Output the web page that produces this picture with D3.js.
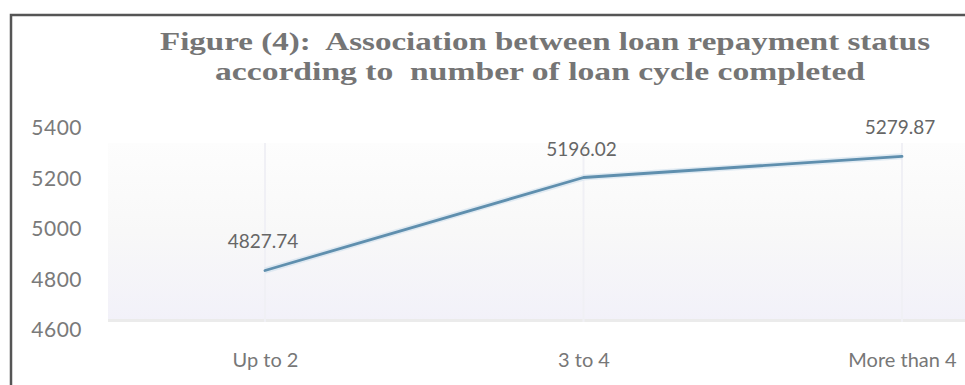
<!DOCTYPE html>
<html>
<head>
<meta charset="utf-8">
<script src="https://cdn.jsdelivr.net/npm/d3@7/dist/d3.min.js"></script>
<style>
  html, body { margin: 0; padding: 0; background: #ffffff; }
  svg { display: block; }
</style>
</head>
<body>
<svg id="chart" width="965" height="385"></svg>
<script>
// ---- data ----
const categories = ["Up to 2", "3 to 4", "More than 4"];
const values = [4827.74, 5196.02, 5279.87];
const valueLabels = ["4827.74", "5196.02", "5279.87"];
const yTicks = [4600, 4800, 5000, 5200, 5400];
const titleLines = [
  "Figure (4):  Association between loan repayment status",
  "according to  number of loan cycle completed"
];

const svg = d3.select("#chart");
const W = 965, H = 385;

// scales
const x = d3.scalePoint().domain(categories).range([265, 902]);
const y = d3.scaleLinear().domain([4600, 5400]).range([328, 126]);

// defs: background gradient
const defs = svg.append("defs");
const grad = defs.append("linearGradient").attr("id", "bg").attr("x1", 0).attr("y1", 0).attr("x2", 0).attr("y2", 1);
grad.append("stop").attr("offset", "0%").attr("stop-color", "#fdfdfd");
grad.append("stop").attr("offset", "50%").attr("stop-color", "#f8f8f8");
grad.append("stop").attr("offset", "100%").attr("stop-color", "#f2f1f9");

// plot background
svg.append("rect")
  .attr("x", 108).attr("y", 143)
  .attr("width", W - 108).attr("height", 178)
  .attr("fill", "url(#bg)");
svg.append("rect")
  .attr("x", 108).attr("y", 319)
  .attr("width", W - 108).attr("height", 3)
  .attr("fill", "#ebebeb");

// faint vertical guide lines at categories
svg.append("g").selectAll("line").data(categories).join("line")
  .attr("x1", d => x(d)).attr("x2", d => x(d))
  .attr("y1", 143).attr("y2", 322)
  .attr("stroke", "#f0f0f5").attr("stroke-width", 2);

// frame
svg.append("path")
  .attr("d", `M11,${H} L11,15 L${W},15`)
  .attr("fill", "none").attr("stroke", "#555").attr("stroke-width", 2.5);

// title
svg.append("g").selectAll("text").data(titleLines).join("text")
  .attr("x", (d, i) => i === 0 ? 545 : 540)
  .attr("y", (d, i) => i === 0 ? 50 : 80)
  .attr("text-anchor", "middle")
  .attr("font-family", "'Liberation Serif', 'DejaVu Serif', serif")
  .attr("font-weight", "bold")
  .attr("font-size", 26)
  .attr("fill", "#757575")
  .style("white-space", "pre")
  .attr("textLength", (d, i) => i === 0 ? 770 : 650)
  .attr("lengthAdjust", "spacingAndGlyphs")
  .text(d => d);

// y axis (labels only)
const yAxis = d3.axisLeft(y).tickValues(yTicks).tickSize(0).tickPadding(0).tickFormat(d3.format("d"));
const gy = svg.append("g").attr("transform", "translate(82,2)").call(yAxis);
gy.select(".domain").remove();
gy.selectAll("text")
  .attr("font-family", "Lato, 'Open Sans', sans-serif")
  .attr("font-size", 21)
  .attr("letter-spacing", 0.5)
  .attr("fill", "#7a7a7a");

// x axis (labels only)
const xAxis = d3.axisBottom(x).tickSize(0).tickPadding(0);
const gx = svg.append("g").attr("transform", "translate(0,353)").call(xAxis);
gx.select(".domain").remove();
gx.selectAll("text")
  .attr("font-family", "Lato, 'Open Sans', sans-serif")
  .attr("font-size", 20)
  .attr("fill", "#777");

// line
const pts = categories.map((c, i) => ({c, v: values[i], lab: valueLabels[i]}));
const line = d3.line().x(d => x(d.c)).y(d => y(d.v));
svg.append("path").datum(pts)
  .attr("d", line)
  .attr("fill", "none")
  .attr("stroke", "#cfe0ec")
  .attr("stroke-width", 6)
  .attr("stroke-linejoin", "round")
  .attr("opacity", 0.6);
svg.append("path").datum(pts)
  .attr("d", line)
  .attr("fill", "none")
  .attr("stroke", "#5f8fae")
  .attr("stroke-width", 2.8)
  .attr("stroke-linejoin", "round")
  .attr("stroke-linecap", "round");

// data labels
svg.append("g").selectAll("text").data(pts).join("text")
  .attr("x", d => x(d.c) - 2)
  .attr("y", d => y(d.v) - 22)
  .attr("text-anchor", "middle")
  .attr("font-family", "Lato, 'Open Sans', sans-serif")
  .attr("font-size", 19)
  .attr("fill", "#666")
  .text(d => d.lab);
</script>
</body>
</html>
